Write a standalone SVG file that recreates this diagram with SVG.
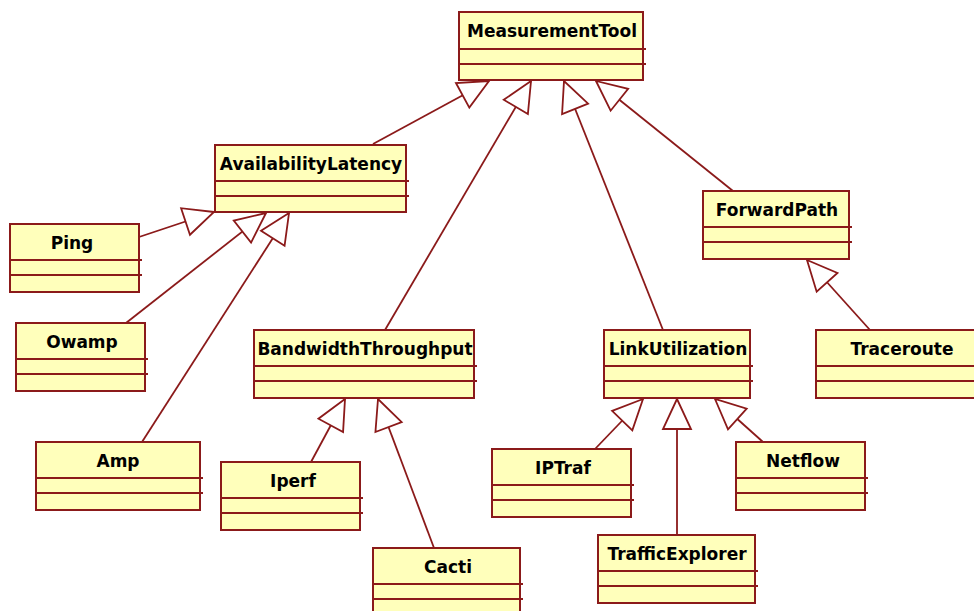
<svg xmlns="http://www.w3.org/2000/svg" width="974" height="611" viewBox="0 0 974 611">
<defs>
<style>
.box{fill:#ffffbb;stroke:#8b1a1a;stroke-width:2}
.div{stroke:#8b1a1a;stroke-width:2}
.name{font-family:"DejaVu Sans",Verdana,sans-serif;font-weight:bold;font-size:17px;fill:#000;text-anchor:middle}
.conn{stroke:#8b1a1a;stroke-width:1.8;fill:none;marker-end:url(#gen)}
</style>
<marker id="gen" markerUnits="userSpaceOnUse" viewBox="-32 -16 34 32" markerWidth="34" markerHeight="32" refX="0" refY="0" orient="auto" overflow="visible">
<path d="M0,0 L-30,-14 L-30,14 Z" fill="#ffffff" stroke="#8b1a1a" stroke-width="1.8" stroke-linejoin="miter"/>
</marker>
</defs>
<rect width="974" height="611" fill="#ffffff"/>
<g id="connectors">
<line class="conn" x1="373" y1="144" x2="489" y2="81"/>
<line class="conn" x1="385" y1="330" x2="531" y2="81"/>
<line class="conn" x1="663" y1="330" x2="564" y2="81"/>
<line class="conn" x1="733" y1="191" x2="596" y2="81"/>
<line class="conn" x1="139" y1="237" x2="214" y2="212"/>
<line class="conn" x1="126" y1="323" x2="266" y2="213"/>
<line class="conn" x1="142" y1="442" x2="289" y2="213"/>
<line class="conn" x1="311" y1="462" x2="345" y2="399"/>
<line class="conn" x1="434" y1="548" x2="378" y2="399"/>
<line class="conn" x1="870" y1="330" x2="807" y2="260"/>
<line class="conn" x1="595" y1="449" x2="643" y2="399"/>
<line class="conn" x1="677" y1="535" x2="677" y2="399"/>
<line class="conn" x1="763" y1="442" x2="715" y2="399"/>
</g>
<g id="MeasurementTool">
<rect class="box" x="459" y="12" width="184" height="68"/>
<line class="div" x1="459" y1="49" x2="646" y2="49"/>
<line class="div" x1="459" y1="64" x2="646" y2="64"/>
<text class="name" x="552" y="37">MeasurementTool</text>
</g>
<g id="AvailabilityLatency">
<rect class="box" x="215" y="145" width="191" height="67"/>
<line class="div" x1="215" y1="181" x2="409" y2="181"/>
<line class="div" x1="215" y1="196" x2="409" y2="196"/>
<text class="name" x="311" y="170">AvailabilityLatency</text>
</g>
<g id="Ping">
<rect class="box" x="10" y="224" width="129" height="68"/>
<line class="div" x1="10" y1="260" x2="142" y2="260"/>
<line class="div" x1="10" y1="275" x2="142" y2="275"/>
<text class="name" x="72" y="249">Ping</text>
</g>
<g id="Owamp">
<rect class="box" x="16" y="323" width="129" height="68"/>
<line class="div" x1="16" y1="359" x2="148" y2="359"/>
<line class="div" x1="16" y1="374" x2="148" y2="374"/>
<text class="name" x="82" y="348">Owamp</text>
</g>
<g id="Amp">
<rect class="box" x="36" y="442" width="164" height="68"/>
<line class="div" x1="36" y1="478" x2="203" y2="478"/>
<line class="div" x1="36" y1="493" x2="203" y2="493"/>
<text class="name" x="118" y="467">Amp</text>
</g>
<g id="BandwidthThroughput">
<rect class="box" x="254" y="330" width="220" height="68"/>
<line class="div" x1="254" y1="366" x2="477" y2="366"/>
<line class="div" x1="254" y1="381" x2="477" y2="381"/>
<text class="name" x="365" y="355">BandwidthThroughput</text>
</g>
<g id="Iperf">
<rect class="box" x="221" y="462" width="139" height="68"/>
<line class="div" x1="221" y1="498" x2="363" y2="498"/>
<line class="div" x1="221" y1="513" x2="363" y2="513"/>
<text class="name" x="293" y="487">Iperf</text>
</g>
<g id="Cacti">
<rect class="box" x="373" y="548" width="147" height="68"/>
<line class="div" x1="373" y1="584" x2="523" y2="584"/>
<line class="div" x1="373" y1="599" x2="523" y2="599"/>
<text class="name" x="448" y="573">Cacti</text>
</g>
<g id="LinkUtilization">
<rect class="box" x="604" y="330" width="146" height="68"/>
<line class="div" x1="604" y1="366" x2="753" y2="366"/>
<line class="div" x1="604" y1="381" x2="753" y2="381"/>
<text class="name" x="678" y="355">LinkUtilization</text>
</g>
<g id="ForwardPath">
<rect class="box" x="703" y="191" width="146" height="68"/>
<line class="div" x1="703" y1="227" x2="852" y2="227"/>
<line class="div" x1="703" y1="242" x2="852" y2="242"/>
<text class="name" x="777" y="216">ForwardPath</text>
</g>
<g id="Traceroute">
<rect class="box" x="816" y="330" width="172" height="68"/>
<line class="div" x1="816" y1="366" x2="990" y2="366"/>
<line class="div" x1="816" y1="381" x2="990" y2="381"/>
<text class="name" x="902" y="355">Traceroute</text>
</g>
<g id="IPTraf">
<rect class="box" x="492" y="449" width="139" height="68"/>
<line class="div" x1="492" y1="485" x2="634" y2="485"/>
<line class="div" x1="492" y1="500" x2="634" y2="500"/>
<text class="name" x="563" y="474">IPTraf</text>
</g>
<g id="TrafficExplorer">
<rect class="box" x="598" y="535" width="157" height="68"/>
<line class="div" x1="598" y1="571" x2="758" y2="571"/>
<line class="div" x1="598" y1="586" x2="758" y2="586"/>
<text class="name" x="677" y="560">TrafficExplorer</text>
</g>
<g id="Netflow">
<rect class="box" x="736" y="442" width="129" height="68"/>
<line class="div" x1="736" y1="478" x2="868" y2="478"/>
<line class="div" x1="736" y1="493" x2="868" y2="493"/>
<text class="name" x="803" y="467">Netflow</text>
</g>
</svg>
